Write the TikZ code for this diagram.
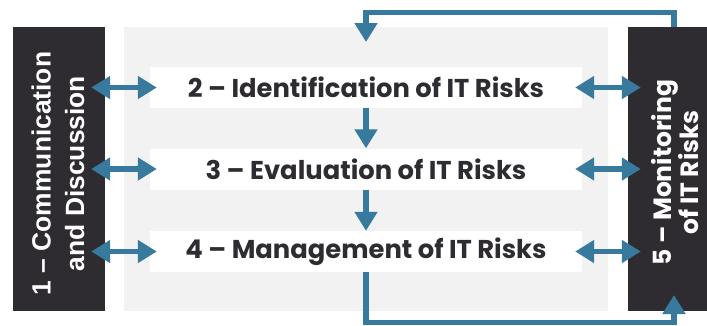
\documentclass[tikz,border=0pt]{standalone}
\usepackage{fontspec}
\setmainfont{Poppins}
\newfontfamily\barfont{Liberation Sans}
\usetikzlibrary{arrows.meta}
\definecolor{ink}{HTML}{2E2C31}
\definecolor{flowblue}{HTML}{377A9D}
\definecolor{panel}{HTML}{F2F2F2}
\tikzset{
  darkbox/.style={fill=ink, draw=none, inner sep=0pt},
  stepbox/.style={fill=white, draw=none, minimum width=432pt, minimum height=41pt,
    inner sep=0pt, text=ink, font=\bfseries\fontsize{25.8}{30}\selectfont},
  sidetext/.style={text=white, align=center, rotate=90, inner sep=0pt},
  flow/.style={draw=flowblue, line width=5.5pt,
    -{Triangle[width=22pt,length=19pt]}},
  twoway/.style={draw=flowblue, line width=5.5pt,
    {Triangle[width=22pt,length=19pt]}-{Triangle[width=22pt,length=19pt]}},
}
\begin{document}
\begin{tikzpicture}[x=1pt,y=-1pt]
  \useasboundingbox (0,0) rectangle (707,325);
  % background panel and the two side bars
  \fill[panel] (124,27) rectangle (608,311);
  \node[darkbox, minimum width=92pt, minimum height=284pt] (c1) at (59,169) {};
  \node[darkbox, minimum width=79pt, minimum height=284pt] (c5) at (667.5,169) {};
  \node[sidetext, font=\barfont\bfseries\fontsize{26.4}{33.5}\selectfont] (t1) at (58,173.5)
    {1 – Communication\\and Discussion};
  \node[sidetext, font=\bfseries\fontsize{25}{27}\selectfont] (t5) at (675,172.5)
    {5 – Monitoring\\of IT Risks};
  % process steps
  \node[stepbox] (b2) at (366,87.5) {2 – Identification of IT Risks};
  \node[stepbox] (b3) at (366,169) {3 – Evaluation of IT Risks};
  \node[stepbox] (b4) at (366,251.5) {4 – Management of IT Risks};
  % vertical flow between steps
  \draw[flow] (b2.south) -- (b3.north);
  \draw[flow] (b3.south) -- (b4.north);
  % exchange with the side bars
  \foreach \b in {b2,b3,b4}{
    \draw[twoway, shorten <=-14pt, shorten >=-7pt] (c1.east |- \b.west) -- (\b.west);
    \draw[twoway, shorten <=-7pt, shorten >=-13pt] (\b.east) -- (c5.west |- \b.east);
  }
  % feedback loop
  \coordinate (topin) at (366,42);
  \coordinate (botin) at (674,295);
  \draw[flow] ([xshift=6.5pt]c5.north) -- ++(0,-14.5) -| (topin);
  \draw[flow] (b4.south) -- ++(0,50.5) -| (botin);
\end{tikzpicture}
\end{document}
